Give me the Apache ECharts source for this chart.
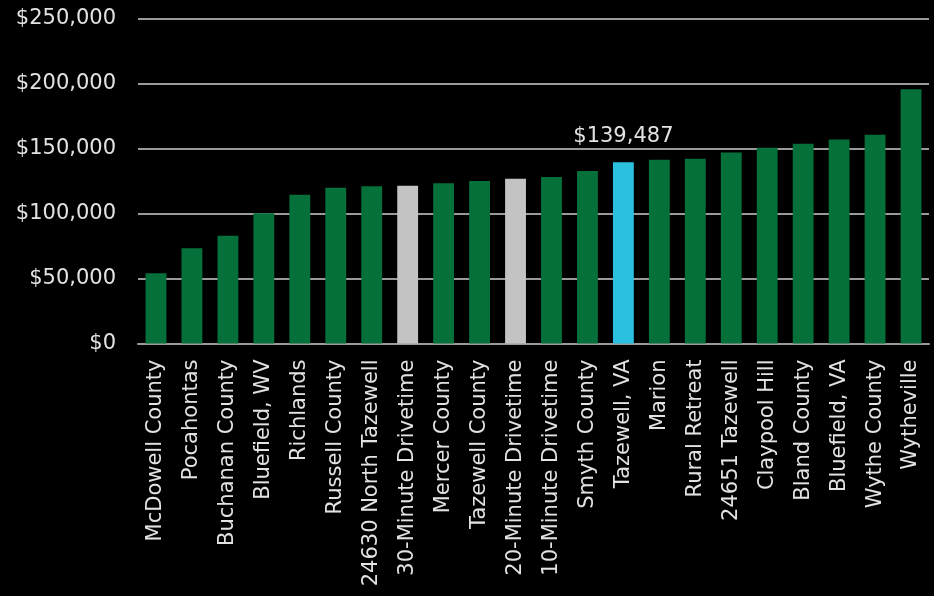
<!DOCTYPE html>
<html>
<head>
<meta charset="utf-8">
<script src="https://cdn.jsdelivr.net/npm/echarts@6/dist/echarts.min.js"></script>
<style>
  html, body { margin: 0; padding: 0; background: #000; }
  #chart { width: 934px; height: 596px; }
</style>
</head>
<body>
<div id="chart"></div>
<script>
// Median home value by area
const categories = [
  'McDowell County', 'Pocahontas', 'Buchanan County', 'Bluefield, WV', 'Richlands',
  'Russell County', '24630 North Tazewell', '30-Minute Drivetime', 'Mercer County',
  'Tazewell County', '20-Minute Drivetime', '10-Minute Drivetime', 'Smyth County',
  'Tazewell, VA', 'Marion', 'Rural Retreat', '24651 Tazewell', 'Claypool Hill',
  'Bland County', 'Bluefield, VA', 'Wythe County', 'Wytheville'
];
const values = [
  54000, 73200, 82900, 100100, 114500,
  119900, 120900, 121400, 123200,
  125000, 126800, 128100, 132700,
  139487, 141400, 142200, 147000, 150600,
  153700, 157000, 160600, 195500
];
// area kind: 'place', 'drive' (drivetime ring), 'focus' (subject area)
const kinds = [
  'place', 'place', 'place', 'place', 'place',
  'place', 'place', 'drive', 'place',
  'place', 'drive', 'place', 'place',
  'focus', 'place', 'place', 'place', 'place',
  'place', 'place', 'place', 'place'
];
const yTicks = [0, 50000, 100000, 150000, 200000, 250000];

const kindColor = { place: '#05703a', drive: '#c3c3c3', focus: '#2bbfe0' };
const textColor = '#e2e2e2';
const fontFamily = '"DejaVu Sans", "Liberation Sans", Arial, sans-serif';

const fmt = v => '$' + Math.round(v).toLocaleString('en-US');

const chart = echarts.init(document.getElementById('chart'), null, { renderer: 'canvas' });
chart.setOption({
  backgroundColor: '#000',
  animation: false,
  grid: { left: 138, right: 5, top: 18.5, bottom: 252.5, containLabel: false },
  xAxis: {
    type: 'category',
    data: categories,
    axisLine: { show: true, lineStyle: { color: '#9a9a9a', width: 2 } },
    axisTick: { show: false },
    axisLabel: {
      rotate: 90,
      interval: 0,
      margin: 16,
      color: textColor,
      fontSize: 21,
      fontFamily: fontFamily
    }
  },
  yAxis: {
    type: 'value',
    min: yTicks[0],
    max: yTicks[yTicks.length - 1],
    interval: yTicks[1] - yTicks[0],
    axisLine: { show: false },
    axisTick: { show: false },
    splitLine: { show: true, lineStyle: { color: '#9a9a9a', width: 2 } },
    axisLabel: {
      margin: 22,
      color: textColor,
      fontSize: 21,
      fontFamily: fontFamily,
      formatter: fmt
    }
  },
  series: [{
    type: 'bar',
    barWidth: '58%',
    data: values.map((v, i) => ({
      value: v,
      itemStyle: { color: kindColor[kinds[i]] },
      label: kinds[i] === 'focus' ? {
        show: true,
        position: 'top',
        distance: 15,
        color: textColor,
        fontSize: 21,
        fontFamily: fontFamily,
        formatter: p => fmt(p.value)
      } : { show: false }
    }))
  }]
});
</script>
</body>
</html>
